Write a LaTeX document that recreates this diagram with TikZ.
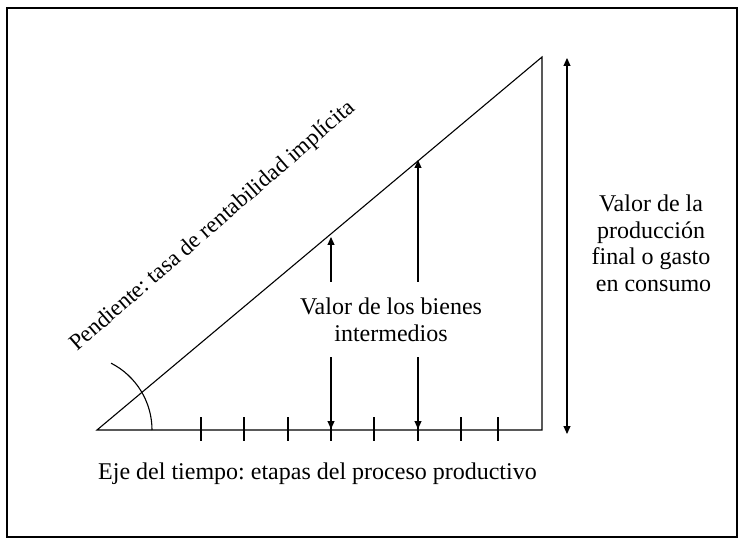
\documentclass[tikz,border=0pt]{standalone}
\usepackage{fontspec}
\setmainfont{Liberation Serif}
\usetikzlibrary{arrows.meta}
\frenchspacing
\tikzset{
  line/.style={line width=1.1pt, black},
  arr/.style={line width=1.1pt, -{Triangle[length=8pt,width=7pt]}},
  darr/.style={line width=1.1pt, {Triangle[length=8pt,width=7pt]}-{Triangle[length=8pt,width=7pt]}},
  lbl/.style={inner sep=0pt, font=\fontsize{24}{26.5}\selectfont, align=center},
  frame/.style={line width=1.6pt, black}
}
\begin{document}
\begin{tikzpicture}[x=1pt,y=1pt]
\useasboundingbox (0,0) rectangle (751,549);
% frame
\coordinate (F1) at (7,541);
\coordinate (F2) at (737,12);
\draw[frame] (F1) rectangle (F2);
% triangle
\coordinate (O) at (97,119);
\coordinate (B) at (542,119);
\coordinate (C) at (542,492);
\draw[line] (O) -- (B) -- (C) -- cycle;
% angle arc
\coordinate (A0) at (152,119);
\draw[line] (A0) arc[start angle=0, end angle=63, radius=75];
% ticks
\foreach \tx [count=\i] in {201,244,288,331,374,418,461,498}{
  \coordinate (T\i a) at (\tx,132);
  \coordinate (T\i b) at (\tx,108);
  \draw[line] (T\i a) -- (T\i b);
}
% intermediate arrows
\coordinate (U1s) at (331,267);
\coordinate (U1e) at (331,312);
\coordinate (D1s) at (331,192);
\coordinate (D1e) at (331,120);
\coordinate (U2s) at (418,267);
\coordinate (U2e) at (418,389);
\coordinate (D2s) at (418,192);
\coordinate (D2e) at (418,120);
\draw[arr] (U1s) -- (U1e);
\draw[arr] (D1s) -- (D1e);
\draw[arr] (U2s) -- (U2e);
\draw[arr] (D2s) -- (D2e);
% right arrow
\coordinate (R1) at (567,491);
\coordinate (R2) at (567,115);
\draw[darr] (R1) -- (R2);
% labels
\node[lbl] (inter) at (391,229.2) {Valor de los bienes\\intermedios};
\node[lbl] (final) at (651,305.5) {Valor de la\\producción\\final o gasto\\\hspace{5pt}en consumo};
\node[lbl, anchor=base] (eje) at (317.5,70) {Eje del tiempo: etapas del proceso productivo};
\node[inner sep=0pt, font=\fontsize{23}{26}\selectfont, rotate=41, anchor=base west] (pend) at (77,197) {Pendiente: tasa de rentabilidad implícita};
\end{tikzpicture}
\end{document}
